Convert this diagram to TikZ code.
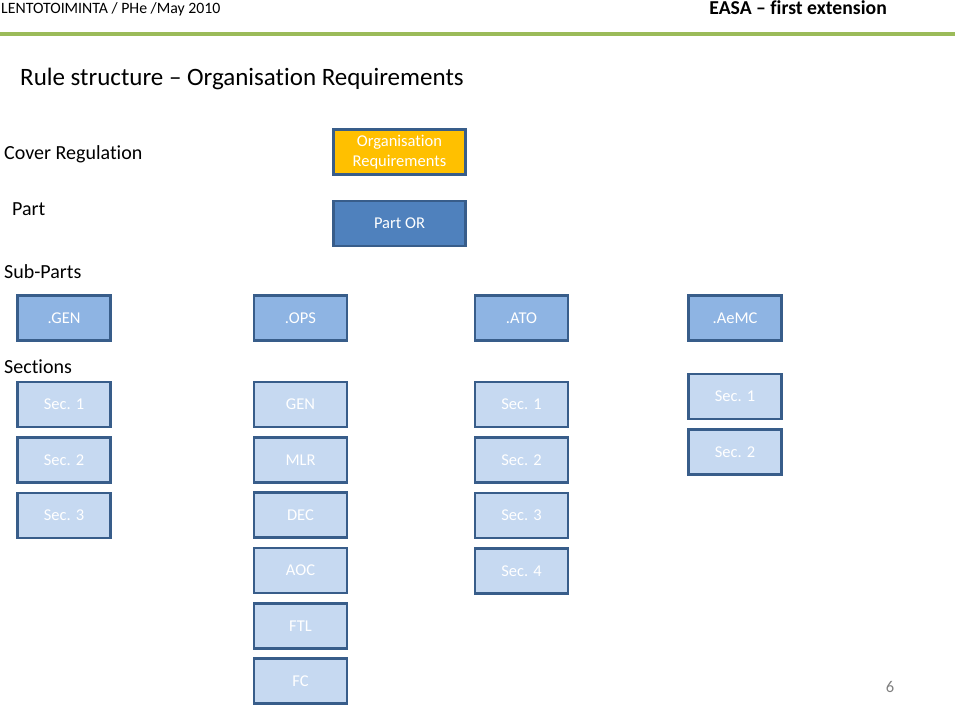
\documentclass[tikz,border=0pt]{standalone}
\usepackage{fontspec}
\setmainfont{Carlito}[Ligatures=NoCommon]
\usetikzlibrary{positioning}

\definecolor{boxline}{HTML}{385D8A}
\definecolor{orgfill}{HTML}{FFC000}
\definecolor{partfill}{HTML}{4F81BD}
\definecolor{subfill}{HTML}{8EB4E3}
\definecolor{secfill}{HTML}{C6D9F1}
\definecolor{rulegreen}{HTML}{9BBB59}

% no "ti" ligature
\newcommand{\Orgn}{Organisat\kern0pt ion}

\tikzset{
  box/.style={draw=boxline, line width=2.6pt, minimum width=93pt, minimum height=45pt,
    inner sep=1pt, text=white, font=\fontsize{16.5}{18}\selectfont, align=center},
  orgbox/.style={box, fill=orgfill, minimum width=132pt},
  partbox/.style={box, fill=partfill, minimum width=132pt},
  subbox/.style={box, fill=subfill},
  secbox/.style={box, fill=secfill},
  rowlabel/.style={anchor=west, inner sep=0pt, font=\fontsize{20}{24}\selectfont}
}

\begin{document}
\begin{tikzpicture}[x=1pt,y=-1pt]
		\useasboundingbox (0,0) rectangle (960,712);

		% Header
		\node[anchor=west, inner sep=0pt, font=\fontsize{15.8}{18}\selectfont] (head) at (1,9) {LENTOTOIMINTA / PHe /May 2010};
		\node[anchor=east, inner sep=0pt, font=\fontsize{19.7}{22}\selectfont\bfseries] (easa) at (887,8) {EASA -- first extension};
		\draw[rulegreen, line width=4pt] (0,34) -- (955,34);
		\node[anchor=west, inner sep=0pt, font=\fontsize{25}{30}\selectfont] (title) at (20,79) {Rule structure -- \Orgn{} Requirements};

		% Row labels
		\node[rowlabel] (lcover) at (4,154) {Cover Regulation};
		\node[rowlabel] (lpart) at (12,209) {Part};
		\node[rowlabel] (lsub) at (4,272) {Sub-Parts};
		\node[rowlabel] (lsec) at (4,367) {Sections};

		% Cover regulation and part
		\node[orgbox] (org) at (399.5,152) {\Orgn\\[1.5pt]Requirements};
		\node[partbox] (partor) at (399.5,223.5) {Part OR};

		% Sub-parts
		\node[subbox] (gen) at (64,318) {.GEN};
		\node[subbox] (ops) at (300.5,318) {.OPS};
		\node[subbox] (ato) at (521.5,318) {.ATO};
		\node[subbox] (aemc) at (735,318) {.AeMC};

		% Sections .GEN
		\foreach \n [count=\i from 0] in {1,2,3}
			\node[secbox] (gen\n) at (64,404.5+55.5*\i) {Sec. \n};

		% Sections .OPS
		\foreach \s [count=\i from 0] in {GEN,MLR,DEC,AOC,FTL,FC}
			\node[secbox] (ops\s) at (300.5,404.5+55.3*\i) {\s};

		% Sections .ATO
		\foreach \n [count=\i from 0] in {1,2,3,4}
			\node[secbox] (ato\n) at (521.5,404.5+55.5*\i) {Sec. \n};

		% Sections .AeMC
		\foreach \n [count=\i from 0] in {1,2}
			\node[secbox] (aemc\n) at (735,396.5+55.5*\i) {Sec. \n};

		% Page number
		\node[inner sep=0pt, text=gray, font=\fontsize{16.5}{18}\selectfont] (page) at (890,687) {6};
	\end{tikzpicture}
\end{document}
